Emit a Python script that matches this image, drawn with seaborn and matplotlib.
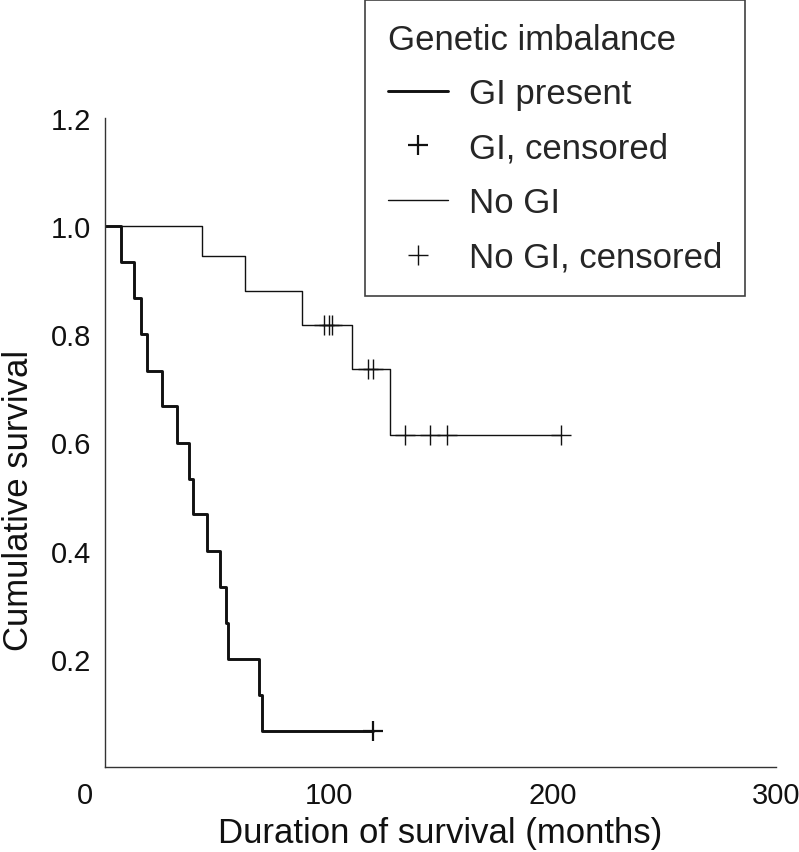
import numpy as np
import pandas as pd
import seaborn as sns
import matplotlib.pyplot as plt
from matplotlib.lines import Line2D
import matplotlib.transforms as mtransforms

# -----------------------------
# Data (Kaplan-Meier steps)
# -----------------------------
gi_times = [0, 7, 13, 16, 19, 25.5, 32, 37.5, 39.5, 45.5, 51.5, 54, 55, 69, 70, 120]
gi_surv = [1.0, 0.933, 0.867, 0.8, 0.733, 0.667, 0.6, 0.533, 0.467, 0.4,
           0.333, 0.267, 0.2, 0.133, 0.067, 0.067]
gi_cens_times = [120]
gi_cens_surv = [0.067]

no_gi_times = [0, 43.5, 62.5, 88, 110.5, 127.5, 204]
no_gi_surv = [1.0, 0.944, 0.881, 0.817, 0.736, 0.613, 0.613]
no_gi_cens_times = [98, 100, 101.5, 117.5, 120, 134, 145.5, 153, 204]
no_gi_cens_surv = [0.817, 0.817, 0.817, 0.736, 0.736, 0.613, 0.613, 0.613, 0.613]

x_ticks = [0, 100, 200, 300]
y_ticks = [0.2, 0.4, 0.6, 0.8, 1.0, 1.2]

legend_title = "Genetic imbalance"
legend_labels = ["GI present", "GI, censored", "No GI", "No GI, censored"]

# -----------------------------
# Style
# -----------------------------
sns.set_theme(style="white")
plt.rcParams['font.family'] = ['Liberation Sans', 'DejaVu Sans']

INK = "#111111"
AXIS = "#333333"
THICK = 2.1
THIN = 1.0

fig = plt.figure(figsize=(7.99, 8.53), dpi=100)
ax = fig.add_axes([105 / 799, 1 - 768 / 853, 671 / 799, 649 / 853])

gi_df = pd.DataFrame({"t": gi_times, "s": gi_surv})
no_gi_df = pd.DataFrame({"t": no_gi_times, "s": no_gi_surv})

sns.lineplot(data=gi_df, x="t", y="s", estimator=None, sort=False,
             drawstyle="steps-post", color=INK, lw=THICK, ax=ax)
sns.lineplot(data=no_gi_df, x="t", y="s", estimator=None, sort=False,
             drawstyle="steps-post", color=INK, lw=THIN, ax=ax)

ax.plot(gi_cens_times, gi_cens_surv, ls="none", marker="+", ms=15,
        mew=1.6, color=INK, clip_on=False)
ax.plot(no_gi_cens_times, no_gi_cens_surv, ls="none", marker="+", ms=15,
        mew=THIN, color=INK, clip_on=False)

# -----------------------------
# Axes
# -----------------------------
ax.set_xlim(0, 300)
ax.set_ylim(0, 1.2)
ax.set_xticks(x_ticks)
ax.set_yticks(y_ticks)
ax.set_yticklabels([f"{v:.1f}" for v in y_ticks])
ax.tick_params(axis="both", direction="in", length=17, width=1.0,
               color=AXIS, labelsize=21, labelcolor=INK, pad=10)
sns.despine(ax=ax)
for side in ["left", "bottom"]:
    ax.spines[side].set_color(AXIS)
    ax.spines[side].set_linewidth(1.0)

# "0" sits left of the corner in the reference
lbl0 = ax.get_xticklabels()[0]
lbl0.set_transform(lbl0.get_transform() +
                   mtransforms.ScaledTranslation(-20 / 100, 0, fig.dpi_scale_trans))

ax.set_xlabel("Duration of survival (months)", fontsize=25, color=INK, labelpad=5)
ax.set_ylabel("Cumulative survival", fontsize=25, color=INK)
ax.yaxis.set_label_coords(-0.104, 0.413)

# -----------------------------
# Legend
# -----------------------------
handles = [
    Line2D([], [], color=INK, lw=THICK),
    Line2D([], [], ls="none", marker="+", ms=15, mew=1.6, color=INK),
    Line2D([], [], color=INK, lw=THIN),
    Line2D([], [], ls="none", marker="+", ms=15, mew=THIN, color=INK),
]
leg = ax.legend(handles, legend_labels, title=legend_title,
                loc="upper left", bbox_to_anchor=(365 / 799, 1 - 1 / 853),
                bbox_transform=fig.transFigure, frameon=True, fancybox=False,
                edgecolor=INK, fontsize=25, title_fontsize=25,
                alignment="left", borderpad=0.65, labelspacing=0.62,
                handlelength=1.75, handletextpad=0.6, borderaxespad=0)
leg.get_frame().set_linewidth(1.2)

fig.savefig("out.png", dpi=100)
